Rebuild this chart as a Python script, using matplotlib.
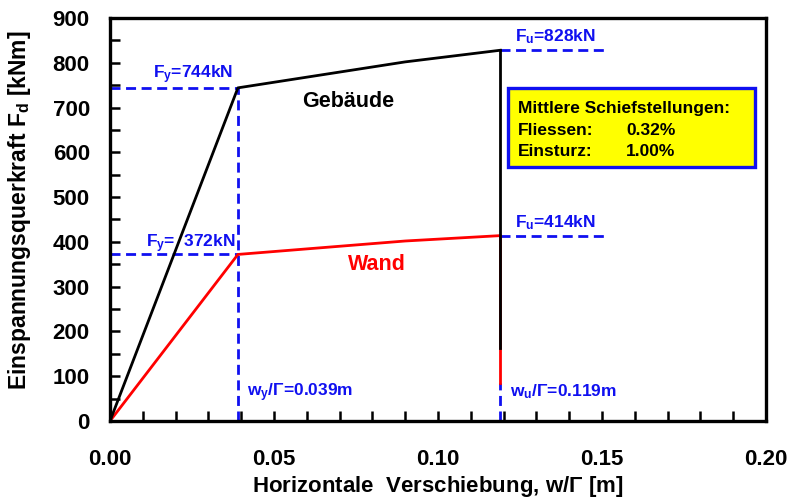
import matplotlib
matplotlib.use("Agg")
import matplotlib.pyplot as plt
from matplotlib.ticker import MultipleLocator, FormatStrFormatter
from matplotlib.patches import Rectangle

plt.rcParams['font.family'] = ['Liberation Sans', 'DejaVu Sans']
plt.rcParams['font.weight'] = 'bold'
plt.rcParams['mathtext.fontset'] = 'custom'
plt.rcParams['mathtext.rm'] = 'Liberation Sans:bold'
plt.rcParams['mathtext.it'] = 'Liberation Sans:bold'
plt.rcParams['mathtext.bf'] = 'Liberation Sans:bold'

# Data
geb_x = [0.0, 0.039, 0.09, 0.119]
geb_y = [0, 744, 802, 828]
wand_x = [0.0, 0.039, 0.09, 0.119]
wand_y = [0, 372, 402, 414]
geb_drop = [828, 163]
wand_drop = [414, 85]
x_yield = 0.039
x_ult = 0.119
x_ult_ext = 0.151
Fy_geb, Fy_wand = 744, 372
Fu_geb, Fu_wand = 828, 414
box_lines = [('Mittlere Schiefstellungen:', ''),
             ('Fliessen:', '0.32%'),
             ('Einsturz:', '1.00%')]

fig = plt.figure(figsize=(7.91, 5.0), dpi=100)
ax = fig.add_axes([110/791, 79/500, 656/791, 403/500])

blue = '#1010f0'
red = '#ff0000'
dash = (0, (3.6, 2.0))
blw = 2.0
# blue dashed guides
ax.plot([0, x_yield], [Fy_geb, Fy_geb], color=blue, lw=blw, ls=dash)
ax.plot([0, x_yield], [Fy_wand, Fy_wand], color=blue, lw=blw, ls=dash)
ax.plot([x_yield, x_yield], [0, Fy_geb], color=blue, lw=blw, ls=dash)
ax.plot([x_ult, x_ult], [0, wand_drop[1]], color=blue, lw=blw, ls=dash)
ax.plot([x_ult, x_ult_ext], [Fu_geb, Fu_geb], color=blue, lw=blw, ls=dash)
ax.plot([x_ult, x_ult_ext], [Fu_wand, Fu_wand], color=blue, lw=blw, ls=dash)

# curves
ax.plot(wand_x, wand_y, color=red, lw=2.0)
ax.plot([x_ult, x_ult], wand_drop, color=red, lw=2.0)
ax.plot(geb_x, geb_y, color='black', lw=2.0)
ax.plot([x_ult, x_ult], geb_drop, color='black', lw=2.0)

ax.set_xlim(0, 0.20)
ax.set_ylim(0, 900)
ax.xaxis.set_major_locator(MultipleLocator(0.05))
ax.xaxis.set_minor_locator(MultipleLocator(0.01))
ax.yaxis.set_major_locator(MultipleLocator(100))
ax.yaxis.set_minor_locator(MultipleLocator(50))
ax.xaxis.set_major_formatter(FormatStrFormatter('%.2f'))
ax.tick_params(which='both', direction='in', width=1.8, length=7,
               top=False, right=False, labelsize=16)
ax.tick_params(axis='x', pad=20)
ax.tick_params(axis='y', pad=14.5)
for lab in ax.get_xticklabels() + ax.get_yticklabels():
    lab.set_fontweight('bold')
for s in ax.spines.values():
    s.set_linewidth(2.4)

ax.set_xlabel('Horizontale  Verschiebung, w/$\\Gamma$ [m]', fontsize=16, fontweight='bold', va='top')
ax.xaxis.set_label_coords(0.5, -0.131)
ax.set_ylabel('Einspannungsquerkraft F$_\\mathrm{d}$ [kNm]', fontsize=16.5, fontweight='bold')
ax.yaxis.set_label_coords(-0.117, 0.524)

fs = 12.5
ax.text(0.0131, 766, 'F$_\\mathrm{y}$=744kN', color=blue, fontsize=fs, fontweight='bold', va='baseline')
ax.text(0.0110, 389, 'F$_\\mathrm{y}$=  372kN', color=blue, fontsize=fs, fontweight='bold', va='baseline')
ax.text(0.1235, 849, 'F$_\\mathrm{u}$=828kN', color=blue, fontsize=fs, fontweight='bold', va='baseline')
ax.text(0.1235, 433, 'F$_\\mathrm{u}$=414kN', color=blue, fontsize=fs, fontweight='bold', va='baseline')
ax.text(0.0418, 56, 'w$_\\mathrm{y}$/$\\Gamma$=0.039m', color=blue, fontsize=fs, fontweight='bold', va='baseline')
ax.text(0.1220, 56, 'w$_\\mathrm{u}$/$\\Gamma$=0.119m', color=blue, fontsize=fs, fontweight='bold', va='baseline')
ax.text(0.0585, 701, 'Gebäude', color='black', fontsize=15.5, fontweight='bold', va='baseline')
ax.text(0.0726, 337, 'Wand', color=red, fontsize=15.5, fontweight='bold', va='baseline')

# info box
ax.add_patch(Rectangle((0.1212, 568), 0.1965 - 0.1212, 743 - 568, facecolor='#ffff00',
                       edgecolor=blue, linewidth=2.4, zorder=5))
box_base = [688, 639, 592]
for (lbl, val), yb in zip(box_lines, box_base):
    ax.text(0.1244, yb, lbl, fontsize=12.5, fontweight='bold', va='baseline', zorder=6)
    if val:
        ax.text(0.1573, yb, val, fontsize=12.5, fontweight='bold', va='baseline', zorder=6)

fig.savefig('out.png', dpi=100)
